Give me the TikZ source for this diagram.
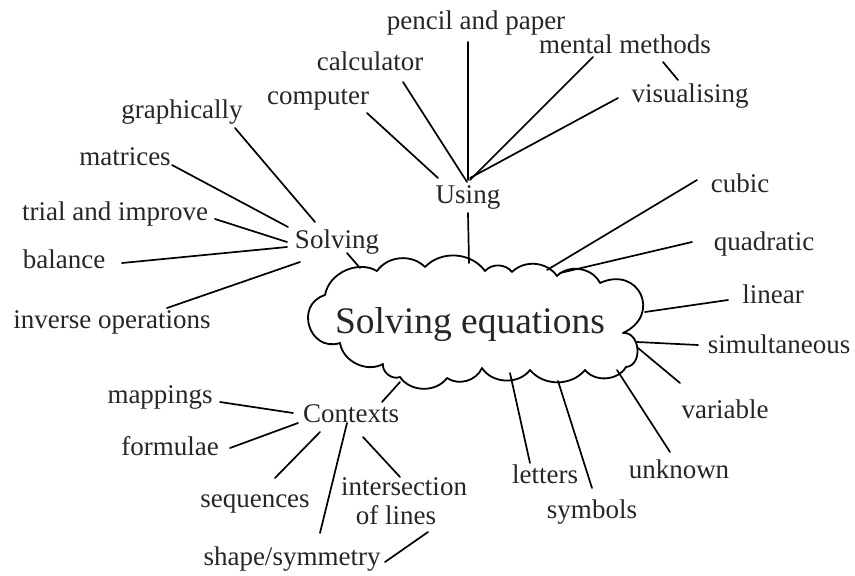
\documentclass[tikz,border=0pt]{standalone}
\usepackage{fontspec}
\setmainfont{Liberation Serif}
\begin{document}
\begin{tikzpicture}[x=1pt,y=-1pt,
  lab/.style={font=\fontsize{27}{31}\selectfont, inner sep=0pt, anchor=base, text=black!85},
  big/.style={font=\fontsize{37.5}{42}\selectfont, inner sep=0pt, anchor=base, text=black!85},
  con/.style={line width=1.7pt, line cap=round},
  cloudline/.style={line width=1.8pt, line join=round}]
\useasboundingbox (0,0) rectangle (855,576);
% cloud outline
\draw[cloudline] (325,295) to[bend left=55] (377,271) to[bend left=50] (425,267)
  to[bend left=50] (485,271) to[bend left=50] (512,272) to[bend left=50] (557,276)
  to[bend left=55] (600,283) to[bend left=90,looseness=2] (623,333)
  to[bend left=90,looseness=1.3] (626,367) to[bend left=55] (585,370)
  to[bend left=50] (530,370) to[bend left=55] (482,368) to[bend left=50] (447,378)
  to[bend left=55] (400,377) to[bend left=60] (383,364) to[bend left=55] (340,343)
  to[bend left=90,looseness=1.65] (325,295) -- cycle;
\node[big] (eq) at (470,333) {Solving equations};
% hubs
\node[lab] (using) at (468,203) {Using};
\node[lab] (solving) at (337,248) {Solving};
\node[lab] (contexts) at (351,422) {Contexts};
% Using group
\node[lab] (pencil) at (476,29) {pencil and paper};
\node[lab] (mental) at (625,53) {mental methods};
\node[lab] (calc) at (370,70) {calculator};
\node[lab] (computer) at (318,104) {computer};
\node[lab] (visual) at (690,102) {visualising};
% Solving group
\node[lab] (graph) at (182,118) {graphically};
\node[lab] (matrices) at (125,165) {matrices};
\node[lab] (trial) at (115,220) {trial and improve};
\node[lab] (balance) at (64,268) {balance};
\node[lab] (inverse) at (112,328) {inverse operations};
% Contexts group
\node[lab] (mappings) at (160,403) {mappings};
\node[lab] (formulae) at (170,455) {formulae};
\node[lab] (sequences) at (255,507) {sequences};
\node[lab] (inter) at (404,495) {intersection};
\node[lab] (oflines) at (396,524) {of lines};
\node[lab] (shape) at (292,565) {shape/symmetry};
% right group
\node[lab] (cubic) at (740,192) {cubic};
\node[lab] (quad) at (764,250) {quadratic};
\node[lab] (linear) at (773,303) {linear};
\node[lab] (simul) at (779,353) {simultaneous};
\node[lab] (variable) at (725,418) {variable};
\node[lab] (unknown) at (679,478) {unknown};
\node[lab] (symbols) at (592,518) {symbols};
\node[lab] (letters) at (545,483) {letters};
% connectors: Using
\draw[con] ([shift={(-8,13)}]pencil.base) -- ([shift={(0,-23)}]using.base);
\draw[con] ([shift={(33,12)}]calc.base) -- ([shift={(-1,-21)}]using.base);
\draw[con] ([shift={(49,9)}]computer.base) -- ([shift={(-30,-25)}]using.base);
\draw[con] ([shift={(-32,4)}]mental.base) -- ([shift={(2,-23)}]using.base);
\draw[con] ([shift={(-72,-4)}]visual.base) -- ([shift={(2,-25)}]using.base);
\draw[con] ([shift={(38,9)}]mental.base) -- ([shift={(-12,-22)}]visual.base);
\draw[con] ([shift={(0,10)}]using.base) -- ([shift={(-1,-70)}]eq.base);
% Solving
\draw[con] ([shift={(53,10)}]graph.base) -- ([shift={(-22,-26)}]solving.base);
\draw[con] ([shift={(47,0)}]matrices.base) -- ([shift={(-49,-21)}]solving.base);
\draw[con] ([shift={(100,-1)}]trial.base) -- ([shift={(-50,-6)}]solving.base);
\draw[con] ([shift={(58,-5)}]balance.base) -- ([shift={(-50,-1)}]solving.base);
\draw[con] ([shift={(55,-20)}]inverse.base) -- ([shift={(-37,14)}]solving.base);
\draw[con] ([shift={(10,5)}]solving.base) -- ([shift={(-110,-65)}]eq.base);
% Contexts
\draw[con] ([shift={(31,-20)}]contexts.base) -- ([shift={(-70,49)}]eq.base);
\draw[con] ([shift={(60,-1)}]mappings.base) -- ([shift={(-58,-9)}]contexts.base);
\draw[con] ([shift={(60,-7)}]formulae.base) -- ([shift={(-53,1)}]contexts.base);
\draw[con] ([shift={(20,-29)}]sequences.base) -- ([shift={(-31,10)}]contexts.base);
\draw[con] ([shift={(28,-32)}]shape.base) -- ([shift={(-4,1)}]contexts.base);
\draw[con] ([shift={(-4,-18)}]inter.base) -- ([shift={(12,15)}]contexts.base);
\draw[con] ([shift={(32,8)}]oflines.base) -- ([shift={(93,-3)}]shape.base);
% right
\draw[con] ([shift={(-43,-12)}]cubic.base) -- ([shift={(77,-63)}]eq.base);
\draw[con] ([shift={(-72,-8)}]quad.base) -- ([shift={(90,-60)}]eq.base);
\draw[con] ([shift={(-45,-3)}]linear.base) -- ([shift={(175,-21)}]eq.base);
\draw[con] ([shift={(-81,-8)}]simul.base) -- ([shift={(167,9)}]eq.base);
\draw[con] ([shift={(-45,-35)}]variable.base) -- ([shift={(168,15)}]eq.base);
\draw[con] ([shift={(-9,-26)}]unknown.base) -- ([shift={(147,37)}]eq.base);
\draw[con] ([shift={(0,-30)}]symbols.base) -- ([shift={(88,48)}]eq.base);
\draw[con] ([shift={(-15,-20)}]letters.base) -- ([shift={(40,40)}]eq.base);
\end{tikzpicture}
\end{document}
